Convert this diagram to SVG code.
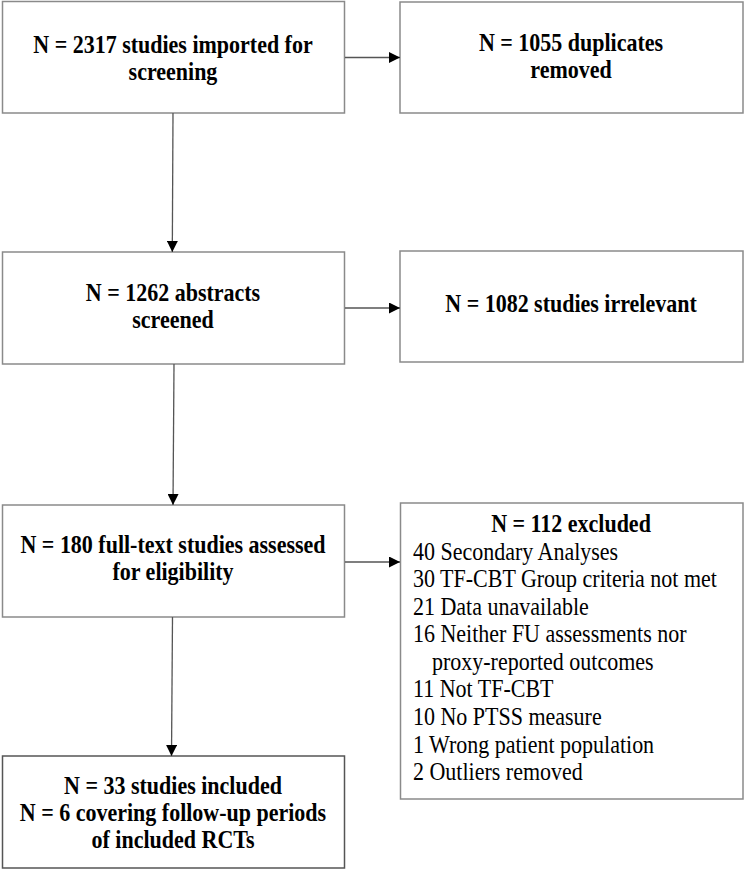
<svg xmlns="http://www.w3.org/2000/svg" width="745" height="871" viewBox="0 0 745 871">
<defs>
<marker id="arr" markerWidth="11" markerHeight="11" refX="11" refY="5.5" orient="auto" markerUnits="userSpaceOnUse">
<path d="M0,0 L11,5.5 L0,11 Z" fill="#000"/>
</marker>
<style>
.box{fill:#fff;stroke:#8a8a8a;stroke-width:1.5}
.dark{stroke:#555}
.b{font-family:"Liberation Serif","Times New Roman",serif;font-weight:bold;font-size:25px;fill:#000;text-anchor:middle}
.r{font-family:"Liberation Serif","Times New Roman",serif;font-size:25px;fill:#000}
.c{fill:none;stroke:#555;stroke-width:1.3}
</style>
</defs>
<rect width="745" height="871" fill="#fff"/>
<g id="n1"><rect class="box" x="2.5" y="1.5" width="342" height="111.5"/>
<text class="b" transform="translate(173 53) scale(0.88 1)">N = 2317 studies imported for</text>
<text class="b" transform="translate(173 80) scale(0.88 1)">screening</text></g>
<g id="n2"><rect class="box" x="400" y="2" width="343" height="111"/>
<text class="b" transform="translate(571 51) scale(0.88 1)">N = 1055 duplicates</text>
<text class="b" transform="translate(571 78) scale(0.88 1)">removed</text></g>
<g id="n3"><rect class="box" x="2.5" y="252" width="342" height="112"/>
<text class="b" transform="translate(173 301) scale(0.88 1)">N = 1262 abstracts</text>
<text class="b" transform="translate(173 328) scale(0.88 1)">screened</text></g>
<g id="n4"><rect class="box" x="400" y="251" width="343" height="111"/>
<text class="b" transform="translate(571 312) scale(0.88 1)">N = 1082 studies irrelevant</text></g>
<g id="n5"><rect class="box" x="2.5" y="505" width="342" height="112"/>
<text class="b" transform="translate(173 553) scale(0.88 1)">N = 180 full-text studies assessed</text>
<text class="b" transform="translate(173 580) scale(0.88 1)">for eligibility</text></g>
<g id="n6"><rect class="box" x="400.5" y="503" width="342.5" height="296"/>
<text class="b" transform="translate(571 532) scale(0.88 1)">N = 112 excluded</text>
<text class="r" transform="translate(413 560) scale(0.88 1)">40 Secondary Analyses</text>
<text class="r" transform="translate(413 587) scale(0.88 1)">30 TF-CBT Group criteria not met</text>
<text class="r" transform="translate(413 615) scale(0.88 1)">21 Data unavailable</text>
<text class="r" transform="translate(413 642) scale(0.88 1)">16 Neither FU assessments nor</text>
<text class="r" transform="translate(432 670) scale(0.88 1)">proxy-reported outcomes</text>
<text class="r" transform="translate(413 697) scale(0.88 1)">11 Not TF-CBT</text>
<text class="r" transform="translate(413 725) scale(0.88 1)">10 No PTSS measure</text>
<text class="r" transform="translate(413 753) scale(0.88 1)">1 Wrong patient population</text>
<text class="r" transform="translate(413 780) scale(0.88 1)">2 Outliers removed</text></g>
<g id="n7"><rect class="box dark" x="2.5" y="756" width="342" height="112"/>
<text class="b" transform="translate(173 794) scale(0.88 1)">N = 33 studies included</text>
<text class="b" transform="translate(173 821) scale(0.88 1)">N = 6 covering follow-up periods</text>
<text class="b" transform="translate(173 848) scale(0.88 1)">of included RCTs</text></g>
<g id="connectors">
<line class="c" x1="345" y1="57.5" x2="400" y2="57.5" marker-end="url(#arr)"/>
<line class="c" x1="173" y1="113" x2="172.3" y2="252" marker-end="url(#arr)"/>
<line class="c" x1="345" y1="308" x2="400" y2="308" marker-end="url(#arr)"/>
<line class="c" x1="174" y1="364" x2="173" y2="505" marker-end="url(#arr)"/>
<line class="c" x1="345" y1="562" x2="400" y2="562" marker-end="url(#arr)"/>
<line class="c" x1="172.5" y1="617" x2="171.5" y2="756" marker-end="url(#arr)"/>
</g>
</svg>
